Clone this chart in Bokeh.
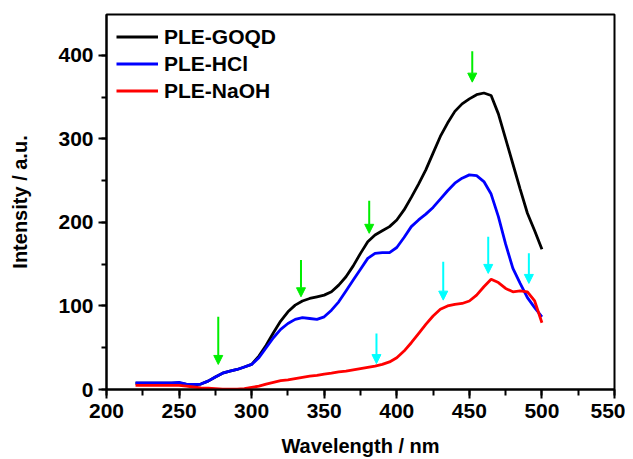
from bokeh.plotting import figure
from bokeh.models import Legend, LegendItem, Arrow, NormalHead, SingleIntervalTicker
from bokeh.embed import file_html
from bokeh.resources import INLINE

# ---------------- data ----------------
wavelength = [220, 225, 230, 235, 240, 245, 250, 255, 260, 265, 270, 275, 280, 285, 290,
              295, 300, 305, 310, 315, 320, 325, 330, 335, 340, 345, 350, 355, 360, 365,
              370, 375, 380, 385, 390, 395, 400, 405, 410, 415, 420, 425, 430, 435, 440,
              445, 450, 455, 460, 465, 470, 475, 480, 485, 490, 495, 500]

ple_goqd = [7.5, 7.5, 7.5, 7.5, 7.5, 7.5, 8, 6, 5.5, 6.5, 10, 15, 19.5, 22, 24,
            27, 30, 40, 53, 68, 82, 93, 101, 106, 109, 111, 113, 117, 125, 135,
            148, 163, 177, 185, 190, 195, 203, 215, 230, 246, 263, 283, 303, 319, 333,
            342, 348, 353, 355, 352, 330, 300, 270, 240, 211, 190, 168]

ple_hcl = [8, 8, 8, 8, 8, 8, 8.5, 6.5, 6, 6.5, 10, 15, 19.5, 22, 24,
           27, 30, 38, 50, 62, 72, 79, 84, 86, 85, 84, 87, 95, 105, 118,
           131, 144, 157, 163, 164, 164, 170, 182, 195, 203, 210, 218, 228, 238, 247,
           253, 257, 256, 249, 234, 207, 174, 145, 127, 110, 98, 87]

ple_naoh = [5, 5, 5, 5, 5, 5, 5, 4, 3, 2, 1.5, 1, 0.5, 0.5, 0.5,
            1, 2.5, 4, 6.5, 8.5, 10.5, 11.5, 13, 14.5, 16, 17, 18.5, 19.5, 21, 22,
            23.5, 25, 26.5, 28, 30, 33, 38, 46, 56, 67, 78, 88, 96, 100, 102,
            103, 106, 113, 123, 132, 128, 121, 117, 118, 117, 106, 80]

series_names = ["PLE-GOQD", "PLE-HCl", "PLE-NaOH"]
series_colors = ["#000000", "#0000FF", "#FF0000"]

# arrows (x, start, tip) in data units
green_x = [277, 334, 381, 452]
green_top = [87, 155, 226, 405]
green_tip = [30, 111, 187, 368]
cyan_x = [386, 432, 463, 491]
cyan_top = [67, 153, 183, 163]
cyan_tip = [31, 107, 139, 127]

x_ticks_interval = 50
y_ticks_interval = 100

FONT = "Liberation Sans"

p = figure(width=625, height=459, x_range=(200, 550), y_range=(0, 449),
           output_backend="svg", toolbar_location=None,
           min_border_left=106, min_border_right=11, min_border_top=14, min_border_bottom=70)

p.grid.visible = False
p.outline_line_color = "black"
p.outline_line_width = 2
p.background_fill_color = "white"
p.border_fill_color = "white"

renderers = []
for ys, c in zip([ple_goqd, ple_hcl, ple_naoh], series_colors):
    r = p.line(wavelength, ys, line_color=c, line_width=2.8)
    renderers.append(r)

for xs, y0s, y1s, col in [(green_x, green_top, green_tip, "#00EE00"),
                          (cyan_x, cyan_top, cyan_tip, "#00FFFF")]:
    for x, y0, y1 in zip(xs, y0s, y1s):
        p.add_layout(Arrow(end=NormalHead(size=9, fill_color=col, line_color=col, line_width=1),
                           x_start=x, y_start=y0, x_end=x, y_end=y1,
                           line_color=col, line_width=2))

legend = Legend(items=[LegendItem(label=n, renderers=[r]) for n, r in zip(series_names, renderers)],
                location=(10, 285), border_line_color=None, background_fill_alpha=0,
                label_text_font=FONT, label_text_font_style="bold", label_text_font_size="21px",
                label_text_color="black",
                glyph_width=42, glyph_height=27, label_height=27, spacing=0, padding=10, margin=0,
                label_standoff=6)
p.add_layout(legend)

for ax in [p.xaxis[0], p.yaxis[0]]:
    ax.axis_line_width = 2
    ax.axis_line_color = "black"
    ax.major_tick_line_width = 2
    ax.minor_tick_line_width = 2
    ax.major_tick_line_color = "black"
    ax.minor_tick_line_color = "black"
    ax.major_tick_in = 0
    ax.minor_tick_in = 0
    ax.major_label_text_font = FONT
    ax.major_label_text_font_style = "bold"
    ax.major_label_text_font_size = "21px"
    ax.major_label_text_color = "black"
    ax.axis_label_text_font = FONT
    ax.axis_label_text_font_style = "bold"
    ax.axis_label_text_font_size = "20px"
    ax.axis_label_text_color = "black"
    ax.major_label_standoff = 5

p.xaxis.ticker = SingleIntervalTicker(interval=x_ticks_interval, num_minor_ticks=2)
p.yaxis.ticker = SingleIntervalTicker(interval=y_ticks_interval, num_minor_ticks=2)
p.xaxis.major_tick_out = 9
p.xaxis.minor_tick_out = 6
p.yaxis.major_tick_out = 8
p.yaxis.minor_tick_out = 5
p.xaxis.axis_label = "Wavelength / nm"
p.yaxis.axis_label = "Intensity / a.u."
p.xaxis.axis_label_standoff = 14
p.yaxis.axis_label_standoff = 24

open("out.html", "w").write(file_html(p, INLINE))
